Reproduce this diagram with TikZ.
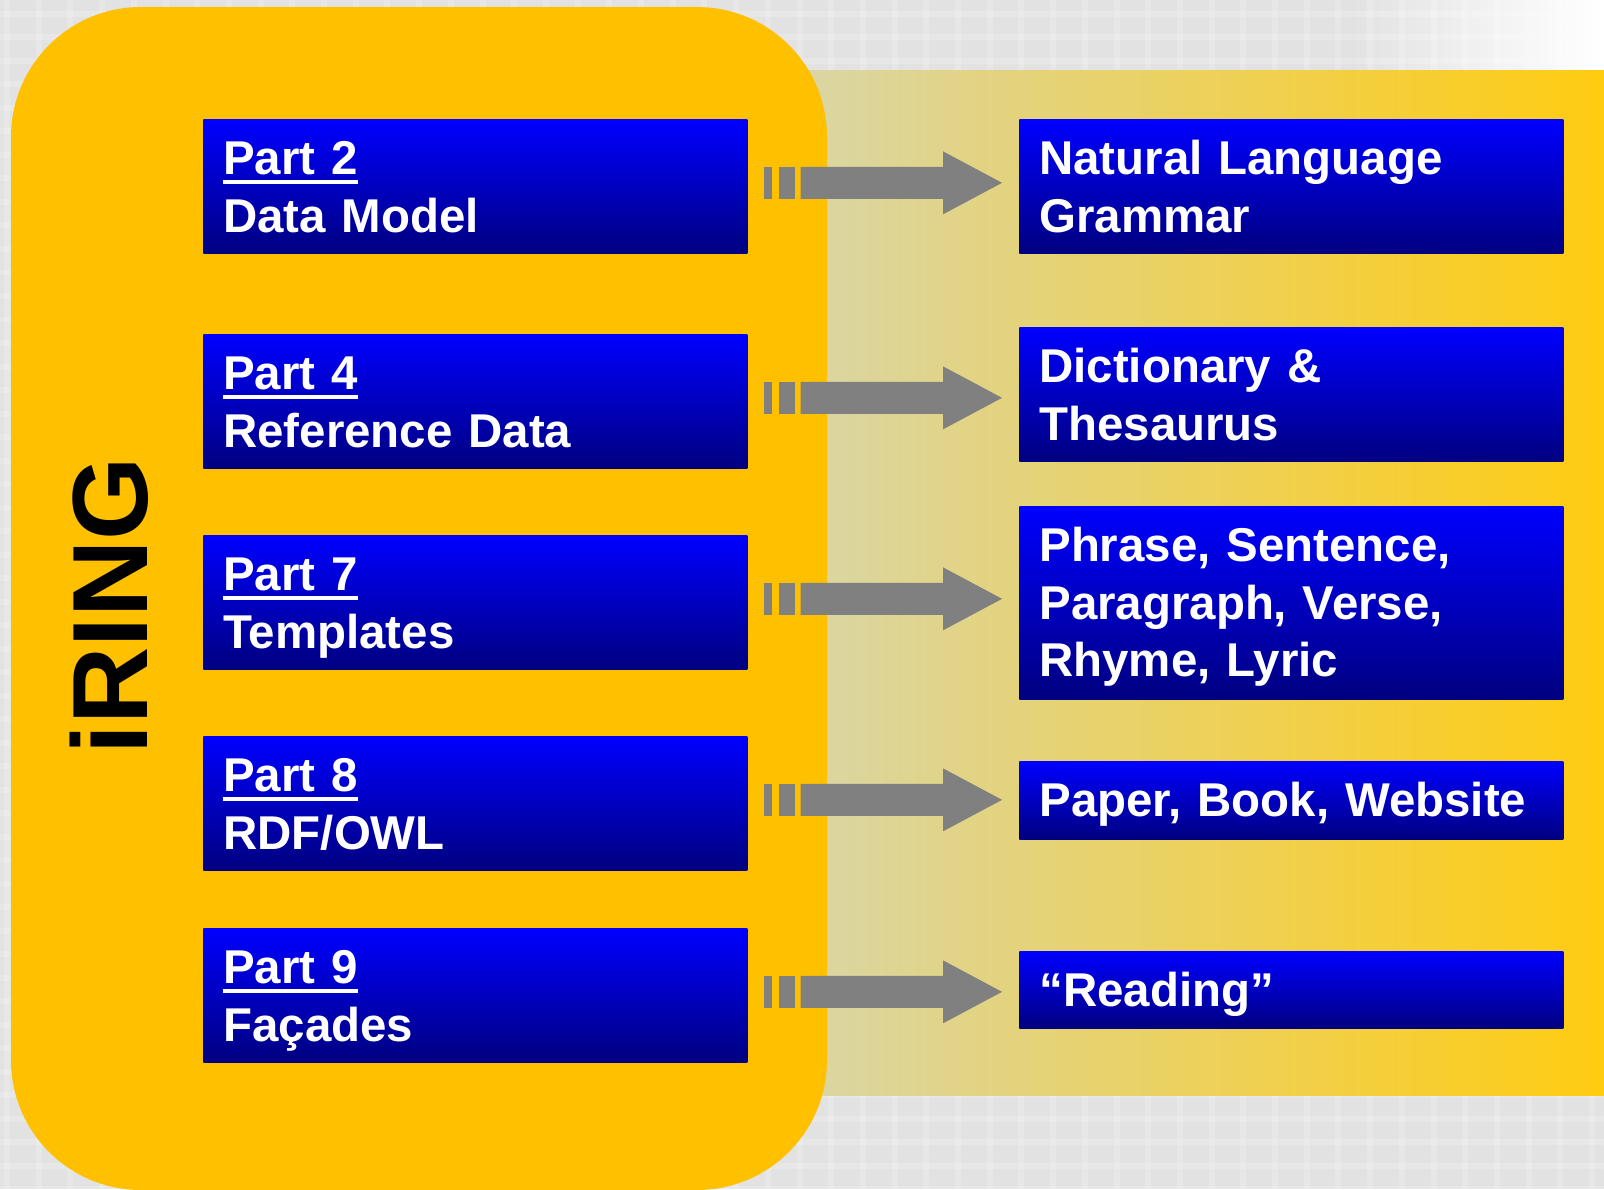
\documentclass[tikz,border=0pt]{standalone}
\usepackage{fontspec}
\setmainfont{Liberation Sans}
\usepackage{tikz}
\usetikzlibrary{calc}
\usepackage{xcolor}

\definecolor{iringyellow}{RGB}{255,192,0}
\definecolor{bggrey}{RGB}{226,226,226}
\definecolor{bandleft}{RGB}{216,214,172}
\definecolor{bandmid}{RGB}{242,210,118}
\definecolor{bandright}{RGB}{255,204,17}
\definecolor{boxtop}{RGB}{0,0,255}
\definecolor{boxbottom}{RGB}{0,0,128}
\definecolor{arrowgrey}{RGB}{128,128,128}

\newcommand{\partul}[1]{\setbox0=\hbox{#1}\rlap{\rule[-0.19em]{\wd0}{0.085em}}#1}
\newcommand{\partarrow}[2]{%
  \path ($(#1.east)+(0,-3.5)$) coordinate (#1-s);
  \path (#1-s -| #2.west) coordinate (#1-e);
  \fill[arrowgrey] ($(#1-s)+(16,-16)$) rectangle ($(#1-s)+(24,16)$);
  \fill[arrowgrey] ($(#1-s)+(31,-16)$) rectangle ($(#1-s)+(47,16)$);
  \fill[arrowgrey] ($(#1-s)+(53,-16)$) -- ($(#1-e)+(-76,-16)$) -- ($(#1-e)+(-76,-31.5)$)
    -- ($(#1-e)+(-17,0)$) -- ($(#1-e)+(-76,31.5)$) -- ($(#1-e)+(-76,16)$)
    -- ($(#1-s)+(53,16)$) -- cycle;}

\begin{document}
\begin{tikzpicture}[x=0.02cm, y=-0.02cm,
    partbox/.style={anchor=north west, top color=boxtop, bottom color=boxbottom,
      text=white, font=\bfseries\fontsize{27}{32.7}\selectfont,
      text width=10.08cm, align=left, inner xsep=0.4cm, inner ysep=0pt,
      text height=1.11cm}]
    \useasboundingbox (0,0) rectangle (1604,1189);
    % background
    \fill[bggrey] (0,0) rectangle (1604,1189);
    \shade[left color=bggrey, right color=white] (1350,0) rectangle (1604,71);
    \foreach \i in {0,...,50}
        \draw[white, opacity=0.2, line width=0.12cm] (7+31.7*\i,0) -- (7+31.7*\i,1189);
    \foreach \j in {0,...,50}
        \draw[white, opacity=0.2, line width=0.12cm] (0,14+23.5*\j) -- (1604,14+23.5*\j);
    \shade[left color=bandleft, middle color=bandmid, right color=bandright] (760,71) rectangle (1604,1095);
    % iRING
    \fill[iringyellow, rounded corners=2.6cm] (11,7) rectangle (827,1190);
    \node[rotate=90, anchor=base, font=\bfseries\fontsize{60.9}{60}\selectfont] (iring) at (147,606) {iRING};
    % parts
    \node[partbox, text depth=1.57cm] (p2) at (203,119) {\partul{Part 2}\\Data Model};
    \node[partbox, text depth=1.57cm] (p4) at (203,334) {\partul{Part 4}\\Reference Data};
    \node[partbox, text depth=1.57cm] (p7) at (203,535) {\partul{Part 7}\\Templates};
    \node[partbox, text depth=1.57cm] (p8) at (203,736) {\partul{Part 8}\\RDF/OWL};
    \node[partbox, text depth=1.57cm] (p9) at (203,928) {\partul{Part 9}\\Façades};
    % language
    \node[partbox, text depth=1.57cm] (nlg) at (1019,119) {Natural Language\\Grammar};
    \node[partbox, text depth=1.57cm] (dict) at (1019,327) {Dictionary \&\\Thesaurus};
    \node[partbox, text depth=2.75cm] (phr) at (1019,506) {Phrase, Sentence,\\Paragraph, Verse,\\Rhyme, Lyric};
    \node[partbox, text depth=0.45cm] (pub) at (1019,761) {Paper, Book, Website};
    \node[partbox, text depth=0.43cm] (read) at (1019,951) {“Reading”};
    % arrows
    \partarrow{p2}{nlg}
    \partarrow{p4}{dict}
    \partarrow{p7}{phr}
    \partarrow{p8}{pub}
    \partarrow{p9}{read}
\end{tikzpicture}
\end{document}
